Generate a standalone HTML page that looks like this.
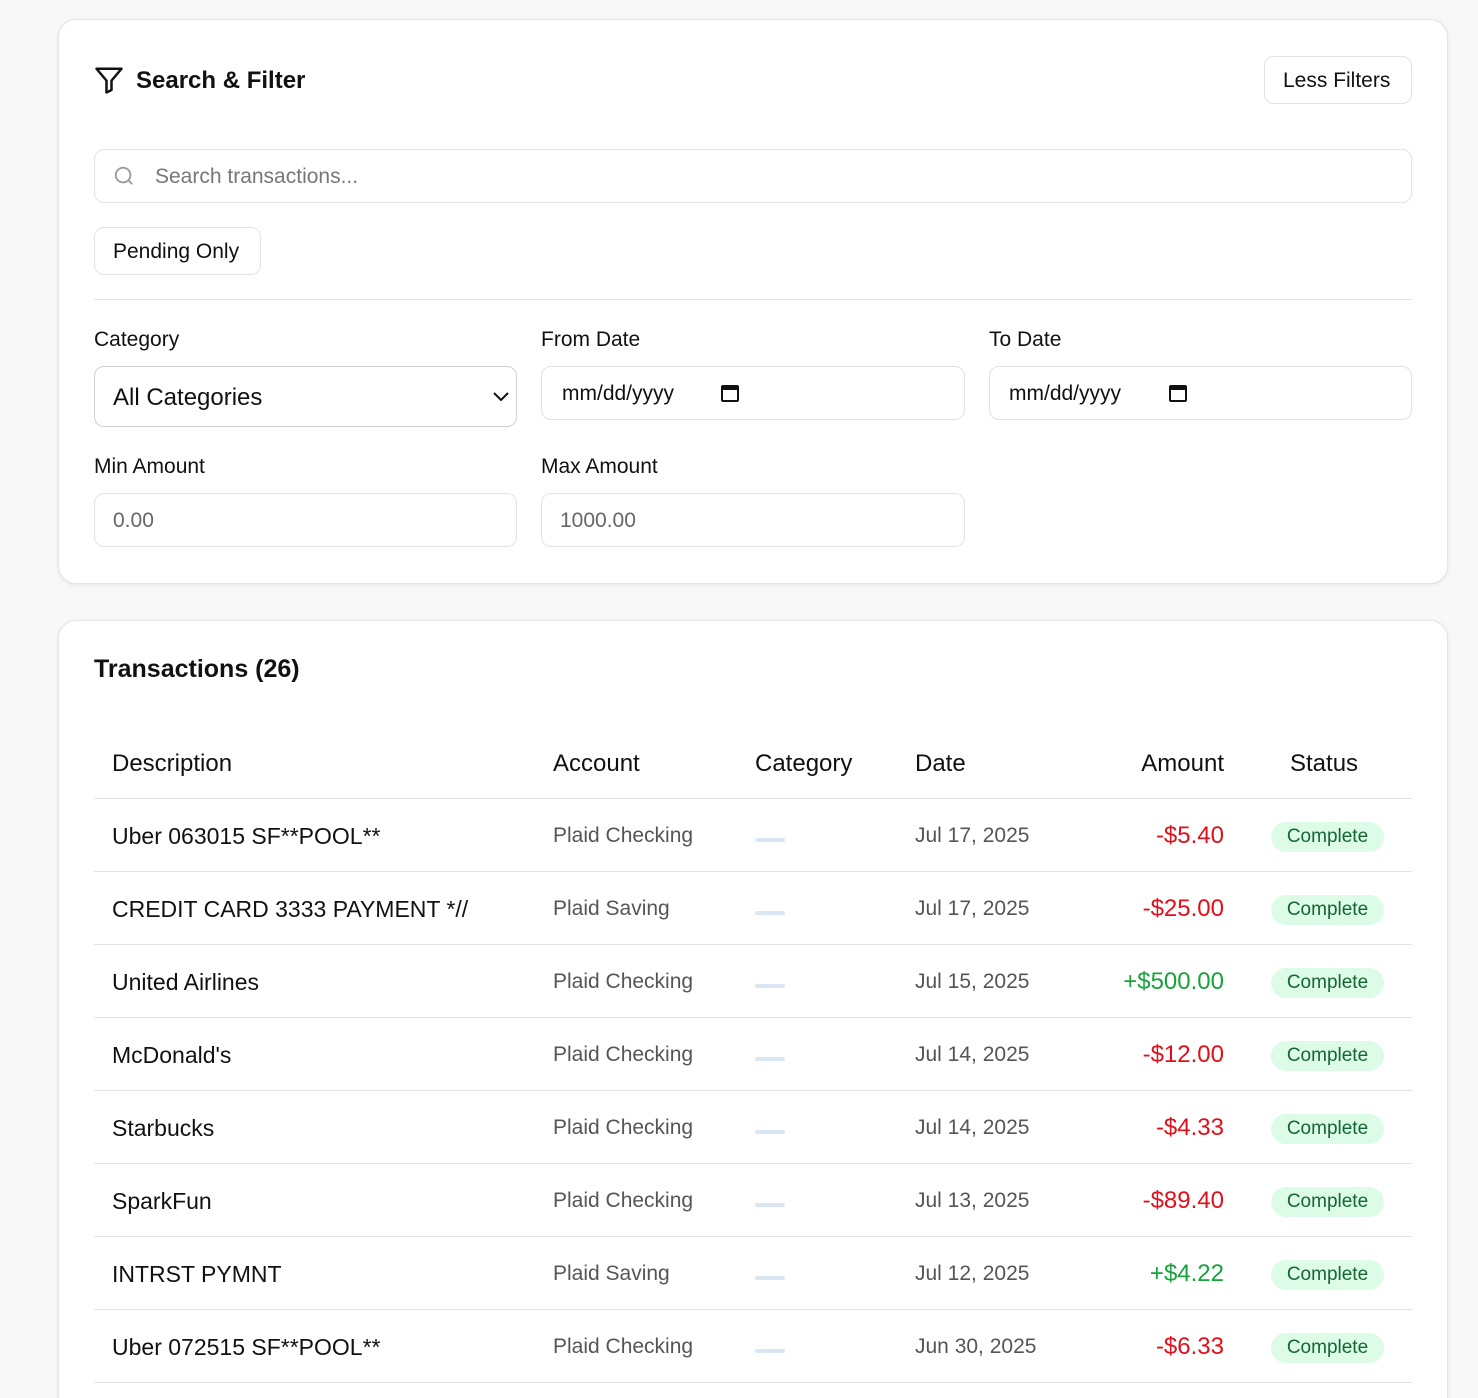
<!DOCTYPE html>
<html><head><style>
*{box-sizing:border-box;margin:0;padding:0}
html,body{width:1478px;height:1398px;overflow:hidden}
body{background:#f8f8f8;font-family:"Liberation Sans",sans-serif;color:#111;position:relative}
.a{position:absolute;white-space:nowrap;margin-top:2px}
.card{position:absolute;left:58px;width:1390px;background:#fff;border:1px solid #e4e4e4;border-radius:18px;box-shadow:0 1px 4px rgba(0,0,0,.08)}
.box{position:absolute;border:1px solid #e2e2e2;border-radius:10px;background:#fff}
.lbl{font-size:21px;color:#111}
.ph{font-size:21px;color:#666}
.line{position:absolute;left:94px;width:1318px;height:1px;background:#e3e3e3}
.th{font-size:24px;top:748px}
.d{font-size:23px;color:#111}
.ac{font-size:21px;color:#555;left:553px}
.dt{font-size:21px;color:#555;left:915px}
.am{font-size:24px;right:254px}
.r{color:#e0101a}.g{color:#16a33a}
.dash{position:absolute;left:755px;width:30px;height:4px;border-radius:2px;background:#dbe6f5}
.pill{position:absolute;left:1271px;width:113px;height:30px;border-radius:15px;background:#dcfce7;color:#166534;font-size:19px;text-align:center;line-height:30px}
</style></head><body>
<div class="card" style="top:19px;height:565px"></div>
<svg class="a" style="left:94px;top:63px" width="30" height="30" viewBox="0 0 24 24" fill="none" stroke="#111" stroke-width="2" stroke-linejoin="round"><path d="M2 3h20l-8 9.5V20l-4 2v-9.5z"/></svg>
<div class="a" style="left:136px;top:65px;font-size:24px;font-weight:bold">Search &amp; Filter</div>
<div class="box" style="left:1264px;top:56px;width:148px;height:48px"></div>
<div class="a" style="left:1283px;top:67px;font-size:21px">Less Filters</div>
<div class="box" style="left:94px;top:149px;width:1318px;height:54px"></div>
<svg class="a" style="left:113px;top:163px" width="22" height="22" viewBox="0 0 24 24" fill="none" stroke="#999" stroke-width="2"><circle cx="11" cy="11" r="8"/><path d="M17 17l4 4"/></svg>
<div class="a ph" style="left:155px;top:163px;color:#777">Search transactions...</div>
<div class="box" style="left:94px;top:227px;width:167px;height:48px"></div>
<div class="a" style="left:113px;top:238px;font-size:21px">Pending Only</div>
<div class="line" style="top:299px"></div>
<div class="a lbl" style="left:94px;top:326px">Category</div>
<div class="a lbl" style="left:541px;top:326px">From Date</div>
<div class="a lbl" style="left:989px;top:326px">To Date</div>
<div class="box" style="left:94px;top:366px;width:423px;height:61px;border-color:#d0d0d0"></div>
<div class="a" style="left:113px;top:382px;font-size:24px">All Categories</div>
<svg class="a" style="left:491px;top:387px" width="20" height="14" viewBox="0 0 20 14" fill="none" stroke="#111" stroke-width="2"><path d="M3 4l7 7 7-7"/></svg>
<div class="box" style="left:541px;top:366px;width:424px;height:54px"></div>
<div class="a" style="left:562px;top:380px;font-size:21px">mm/dd/yyyy</div>
<div class="a" style="left:721px;top:383px;width:18px;height:17px;border:2px solid #111;border-top-width:5px;border-radius:2px"></div>
<div class="box" style="left:989px;top:366px;width:423px;height:54px"></div>
<div class="a" style="left:1009px;top:380px;font-size:21px">mm/dd/yyyy</div>
<div class="a" style="left:1169px;top:383px;width:18px;height:17px;border:2px solid #111;border-top-width:5px;border-radius:2px"></div>
<div class="a lbl" style="left:94px;top:453px">Min Amount</div>
<div class="a lbl" style="left:541px;top:453px">Max Amount</div>
<div class="box" style="left:94px;top:493px;width:423px;height:54px"></div>
<div class="a ph" style="left:113px;top:507px">0.00</div>
<div class="box" style="left:541px;top:493px;width:424px;height:54px"></div>
<div class="a ph" style="left:560px;top:507px">1000.00</div>

<div class="card" style="top:620px;height:800px"></div>
<div class="a" style="left:94px;top:653px;font-size:25px;font-weight:bold">Transactions (26)</div>
<div class="a th" style="left:112px">Description</div>
<div class="a th" style="left:553px">Account</div>
<div class="a th" style="left:755px">Category</div>
<div class="a th" style="left:915px">Date</div>
<div class="a th" style="right:254px">Amount</div>
<div class="a th" style="left:1290px">Status</div>
<div class="line" style="top:798px"></div>

<div class="a d" style="left:112px;top:821px">Uber 063015 SF**POOL**</div><div class="a ac" style="top:822px">Plaid Checking</div><div class="dash" style="top:838px"></div><div class="a dt" style="top:822px">Jul 17, 2025</div><div class="a am r" style="top:820px">-$5.40</div><div class="pill" style="top:822px">Complete</div><div class="line" style="top:871px"></div>
<div class="a d" style="left:112px;top:894px">CREDIT CARD 3333 PAYMENT *//</div><div class="a ac" style="top:895px">Plaid Saving</div><div class="dash" style="top:911px"></div><div class="a dt" style="top:895px">Jul 17, 2025</div><div class="a am r" style="top:893px">-$25.00</div><div class="pill" style="top:895px">Complete</div><div class="line" style="top:944px"></div>
<div class="a d" style="left:112px;top:967px">United Airlines</div><div class="a ac" style="top:968px">Plaid Checking</div><div class="dash" style="top:984px"></div><div class="a dt" style="top:968px">Jul 15, 2025</div><div class="a am g" style="top:966px">+$500.00</div><div class="pill" style="top:968px">Complete</div><div class="line" style="top:1017px"></div>
<div class="a d" style="left:112px;top:1040px">McDonald's</div><div class="a ac" style="top:1041px">Plaid Checking</div><div class="dash" style="top:1057px"></div><div class="a dt" style="top:1041px">Jul 14, 2025</div><div class="a am r" style="top:1039px">-$12.00</div><div class="pill" style="top:1041px">Complete</div><div class="line" style="top:1090px"></div>
<div class="a d" style="left:112px;top:1113px">Starbucks</div><div class="a ac" style="top:1114px">Plaid Checking</div><div class="dash" style="top:1130px"></div><div class="a dt" style="top:1114px">Jul 14, 2025</div><div class="a am r" style="top:1112px">-$4.33</div><div class="pill" style="top:1114px">Complete</div><div class="line" style="top:1163px"></div>
<div class="a d" style="left:112px;top:1186px">SparkFun</div><div class="a ac" style="top:1187px">Plaid Checking</div><div class="dash" style="top:1203px"></div><div class="a dt" style="top:1187px">Jul 13, 2025</div><div class="a am r" style="top:1185px">-$89.40</div><div class="pill" style="top:1187px">Complete</div><div class="line" style="top:1236px"></div>
<div class="a d" style="left:112px;top:1259px">INTRST PYMNT</div><div class="a ac" style="top:1260px">Plaid Saving</div><div class="dash" style="top:1276px"></div><div class="a dt" style="top:1260px">Jul 12, 2025</div><div class="a am g" style="top:1258px">+$4.22</div><div class="pill" style="top:1260px">Complete</div><div class="line" style="top:1309px"></div>
<div class="a d" style="left:112px;top:1332px">Uber 072515 SF**POOL**</div><div class="a ac" style="top:1333px">Plaid Checking</div><div class="dash" style="top:1349px"></div><div class="a dt" style="top:1333px">Jun 30, 2025</div><div class="a am r" style="top:1331px">-$6.33</div><div class="pill" style="top:1333px">Complete</div><div class="line" style="top:1382px"></div>
</body></html>
